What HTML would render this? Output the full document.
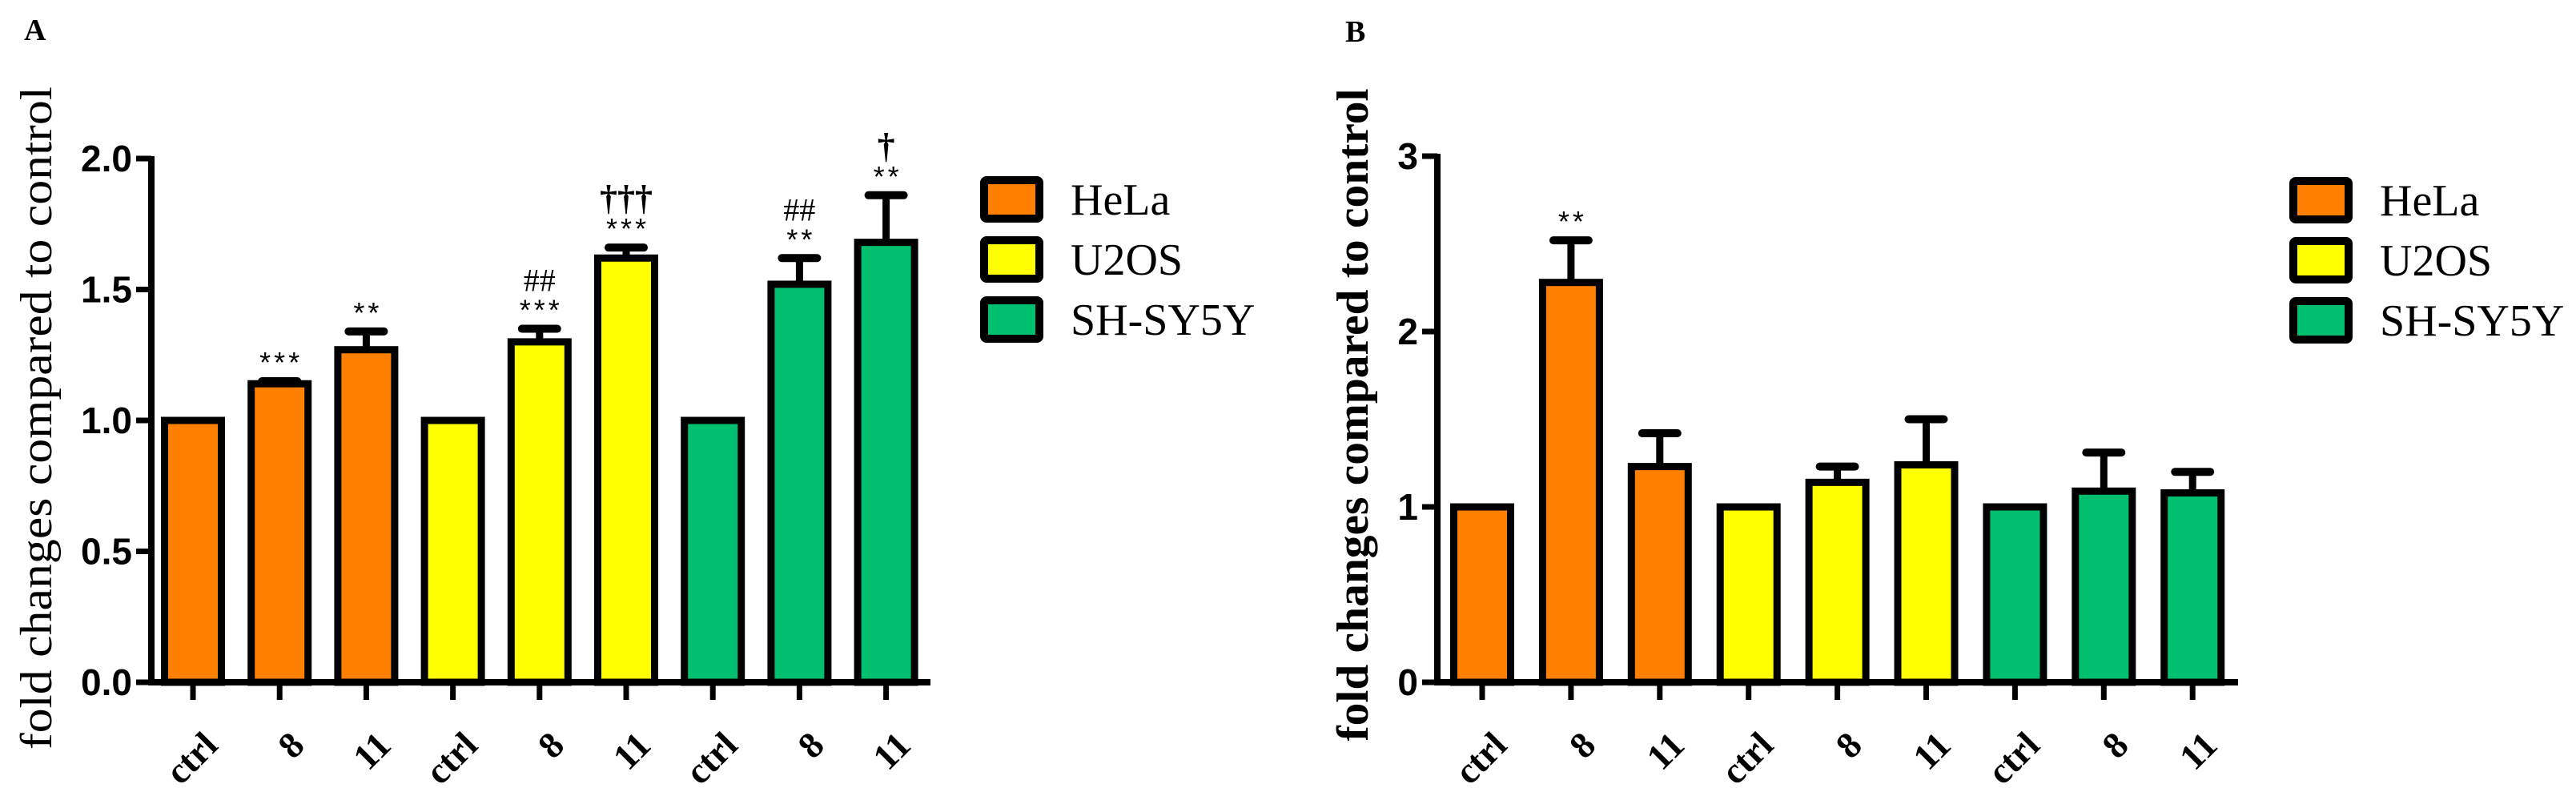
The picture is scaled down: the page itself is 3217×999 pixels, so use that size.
<!DOCTYPE html>
<html><head><meta charset="utf-8"><style>
html,body{margin:0;padding:0;background:#fff;}
svg{display:block;}
.tk{font-family:"Liberation Sans",sans-serif;font-weight:bold;font-size:46px;}
.xl{font-family:"Liberation Serif",serif;font-weight:bold;font-size:46px;}
.lg{font-family:"Liberation Serif",serif;font-size:56px;}
.an{font-family:"Liberation Sans",sans-serif;font-size:36px;letter-spacing:4px;}
</style></head><body>
<svg id="fig" width="3217" height="999" viewBox="0 0 3217 999" xmlns="http://www.w3.org/2000/svg">
<text x="30" y="50" font-family="Liberation Serif" font-weight="bold" font-size="38">A</text>
<text x="1680" y="52" font-family="Liberation Serif" font-weight="bold" font-size="38">B</text>
<text transform="translate(64,522) rotate(-90)" text-anchor="middle" font-family="Liberation Serif" font-size="56" textLength="828" lengthAdjust="spacingAndGlyphs">fold changes compared to control</text>
<text transform="translate(1708,518) rotate(-90)" text-anchor="middle" font-family="Liberation Serif" font-weight="bold" font-size="56" textLength="815" lengthAdjust="spacingAndGlyphs">fold changes compared to control</text>
<g id="pa"></g>
<g id="pb"></g>
</svg>
<script>
const categories = ["ctrl","8","11","ctrl","8","11","ctrl","8","11"];
const groups = [0,0,0,1,1,1,2,2,2];
const seriesNames = ["HeLa","U2OS","SH-SY5Y"];
const colors = ["#FF8000","#FFFF00","#00C070"];
const valuesA = [1.0,1.14,1.27,1.0,1.30,1.62,1.0,1.52,1.68];
const errA = [0,0.01,0.07,0,0.05,0.04,0,0.10,0.18];
const annotStarsA = ["","***","**","","***","***","","**","**"];
const annotTopA = ["","","","","##","†††","","##","†"];
const ticksA = [0,0.5,1.0,1.5,2.0];
const tickLabelsA = ["0.0","0.5","1.0","1.5","2.0"];
const valuesB = [1.0,2.28,1.23,1.0,1.14,1.24,1.0,1.09,1.08];
const errB = [0,0.24,0.19,0,0.09,0.26,0,0.22,0.12];
const annotStarsB = ["","**","","","","","","",""];
const annotTopB = ["","","","","","","","",""];
const ticksB = [0,1,2,3];
const tickLabelsB = ["0","1","2","3"];

const NS = "http://www.w3.org/2000/svg";
function mk(parent, tag, attrs, text){
  const e = document.createElementNS(NS, tag);
  for (const k in attrs) e.setAttribute(k, attrs[k]);
  if (text !== undefined) e.textContent = text;
  parent.appendChild(e);
  return e;
}
function draw(g, cfg){
  const {x0, x1, yTop, yBot, vmax, c0, step, vals, errs, stars, tops, ticks, tickLabels, legX, legTextX, tag} = cfg;
  const ys = v => yBot - (v / vmax) * (yBot - yTop);
  const xs = i => c0 + i * step;
  vals.forEach((v, i) => {
    const c = xs(i), top = ys(v);
    if (errs[i] > 0) {
      const ey = ys(v + errs[i]);
      const el = mk(g, "line", {x1:c, x2:c, y1:top, y2:ey, stroke:"#000","stroke-width":9});
      
      
      const cap = mk(g, "line", {x1:c-22, x2:c+22, y1:ey, y2:ey, stroke:"#000","stroke-width":10,"stroke-linecap":"round"});
      
      
    }
    const r = mk(g, "rect", {x:c-35.5, y:top, width:71, height:yBot-top, fill:colors[groups[i]], stroke:"#000","stroke-width":9});
    
    
    const capY = ys(v + errs[i]) - 5;
    if (stars[i]) {
      const s = mk(g, "text", {x:c+2, y:capY - 6, "text-anchor":"middle", class:"an"}, stars[i]);
      
      
    }
    if (tops[i]) {
      const isDag = tops[i].indexOf("†") >= 0;
      const t = mk(g, "text", {x:c, y:capY - 42, "text-anchor":"middle", "font-family":"Liberation Serif,serif", "font-weight":isDag?"bold":"normal", "font-size":isDag?44:40}, tops[i]);
      
      
    }
    const tk = mk(g, "line", {x1:c, x2:c, y1:yBot, y2:yBot+22, stroke:"#000","stroke-width":7});
    
    
    const lx = c + 10, ly = yBot + 58;
    const lb = mk(g, "text", {x:lx, y:ly, "text-anchor":"end", class:"xl", transform:"rotate(-45 " + lx + " " + ly + ")", "dominant-baseline":"hanging"}, categories[i]);
    
    
  });
  ticks.forEach((t, k) => {
    const y = ys(t);
    const l = mk(g, "line", {x1:x0-19, x2:x0, y1:y, y2:y, stroke:"#000","stroke-width":7});
    
    
    const tx = mk(g, "text", {x:x0-24, y:y+16, "text-anchor":"end", class:"tk"}, tickLabels[k]);
    
    
  });
  const ya = mk(g, "line", {x1:x0, x2:x0, y1:yTop-3, y2:yBot+3, stroke:"#000","stroke-width":8});
  
  
  const xa = mk(g, "line", {x1:x0-4, x2:x1, y1:yBot, y2:yBot, stroke:"#000","stroke-width":8});
  
  
  seriesNames.forEach((n, k) => {
    const y = cfg.legY + k * 75;
    const b = mk(g, "rect", {x:legX+5, y:y+5, width:69, height:48, fill:colors[k], stroke:"#000","stroke-width":10, rx:3});
    
    
    const t = mk(g, "text", {x:legTextX, y:y+48, class:"lg"}, n);
    
    
  });
}
draw(document.getElementById("pa"), {x0:189, x1:1162, yTop:198, yBot:852, vmax:2, c0:241, step:108.2, vals:valuesA, errs:errA, stars:annotStarsA, tops:annotTopA, ticks:ticksA, tickLabels:tickLabelsA, legX:1224, legTextX:1337, legY:220, tag:"a"});
draw(document.getElementById("pb"), {x0:1795, x1:2795, yTop:195, yBot:852, vmax:3, c0:1851, step:110.9, vals:valuesB, errs:errB, stars:annotStarsB, tops:annotTopB, ticks:ticksB, tickLabels:tickLabelsB, legX:2859, legTextX:2972, legY:221, tag:"b"});
</script>
</body></html>
